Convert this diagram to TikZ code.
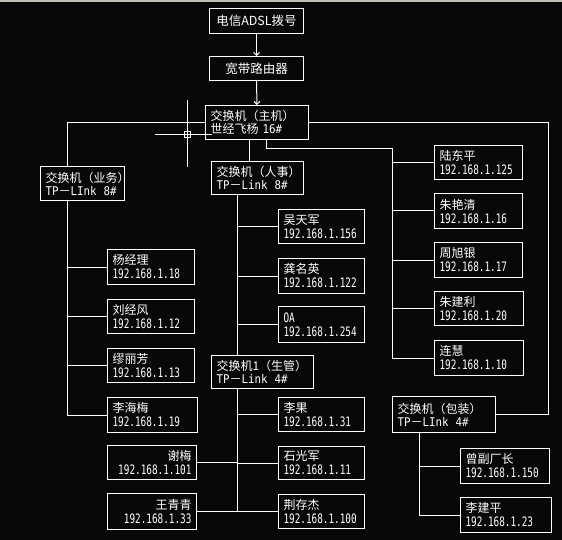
\documentclass[tikz,border=0pt]{standalone}
\usepackage{fontspec}
\usepackage{graphicx}
\setmainfont{Noto Sans CJK SC}
\newfontfamily\mono{DejaVu Sans Mono}
\usetikzlibrary{arrows.meta}
\newcommand\ipt[1]{\scalebox{0.72}[1]{\mono\fontsize{13}{14}\selectfont #1}}
\newcommand\tpl[2]{\scalebox{0.9}[1]{\mono\fontsize{12}{13}\selectfont TP}－\scalebox{0.9}[1]{\mono\fontsize{12}{13}\selectfont #1\ \ #2}}
\tikzset{
  box/.style={draw=white, line width=1pt, text=white, align=left, inner xsep=5pt, inner ysep=0pt,
    anchor=north west, font=\fontsize{12}{14}\selectfont},
  sw/.style={box, font=\fontsize{12}{13}\selectfont},
  rbox/.style={box, align=right},
  conn/.style={draw=white, line width=1pt},
  arr/.style={conn, -{Straight Barb[length=3pt,width=6pt]}},
  cursor/.style={draw=white, line width=0.8pt}
}
\begin{document}
\begin{tikzpicture}[x=1pt,y=-1pt]
\useasboundingbox (0,0) rectangle (562,540);
\fill[black!97] (0,0) rectangle (562,540);
\fill[color={rgb,255:red,190;green,190;blue,180}] (0,0) rectangle (562,2.5);

% top chain
\node[box, align=center, text width=84pt, minimum height=25pt, font=\fontsize{12.5}{14}\selectfont] (adsl) at (209,8) {电信ADSL拨号};
\node[box, align=center, text width=84pt, minimum height=24pt, font=\fontsize{12.5}{14}\selectfont] (bb) at (209,56) {宽带路由器};
\node[sw, text width=93pt, minimum height=34pt] (main) at (205,105) {交换机（主机）\\世经飞杨\ \scalebox{0.9}[1]{\mono\fontsize{12}{13}\selectfont 16\#}};

% switches
\node[sw, text width=74pt, minimum height=34pt] (yewu) at (40,166) {交换机（业务）\\\tpl{LInk}{8\#}};
\node[sw, text width=82pt, minimum height=33pt] (rs) at (211,161) {交换机（人事）\\\tpl{Link}{8\#}};
\node[sw, text width=92pt, minimum height=33pt] (sg) at (211,355) {交换机1（生管）\\\tpl{Link}{4\#}};
\node[sw, text width=93pt, minimum height=36pt] (bz) at (392,396) {交换机（包装）\\\tpl{LInk}{4\#}};

% right column
\node[box, text width=78pt, minimum height=34pt] (ldp) at (434,145) {陆东平\\\ipt{192.168.1.125}};
\node[box, text width=78pt, minimum height=35pt] (zyq) at (434,193) {朱艳清\\\ipt{192.168.1.16}};
\node[box, text width=78pt, minimum height=35pt] (zxy) at (434,242) {周旭银\\\ipt{192.168.1.17}};
\node[box, text width=79pt, minimum height=34pt] (zjl) at (434,291) {朱建利\\\ipt{192.168.1.20}};
\node[box, text width=79pt, minimum height=35pt] (lh) at (434,340) {连慧\\\ipt{192.168.1.10}};

% left column
\node[box, text width=77pt, minimum height=35pt] (yjl) at (107,249) {杨经理\\\ipt{192.168.1.18}};
\node[box, text width=77pt, minimum height=34pt] (ljf) at (107,299) {刘经风\\\ipt{192.168.1.12}};
\node[box, text width=77pt, minimum height=34pt] (mlf) at (107,348) {缪丽芳\\\ipt{192.168.1.13}};
\node[box, text width=80pt, minimum height=35pt] (lhm) at (107,397) {李海梅\\\ipt{192.168.1.19}};

% middle column
\node[box, text width=76pt, minimum height=34pt] (wtj) at (278,209) {吴天军\\\ipt{192.168.1.156}};
\node[box, text width=76pt, minimum height=35pt] (gmy) at (278,258) {龚名英\\\ipt{192.168.1.122}};
\node[box, text width=76pt, minimum height=36pt] (oa) at (278,306) {\ipt{OA}\\\ipt{192.168.1.254}};
\node[box, text width=76pt, minimum height=34pt] (lg) at (278,397) {李果\\\ipt{192.168.1.31}};
\node[box, text width=76pt, minimum height=33pt] (sgj) at (278,446) {石光军\\\ipt{192.168.1.11}};
\node[box, text width=76pt, minimum height=34pt] (jcj) at (278,494) {荆存杰\\\ipt{192.168.1.100}};

% bottom left (right aligned)
\node[rbox, text width=79pt, minimum height=34pt] (xm) at (107,445) {谢梅\\\ipt{192.168.1.101}};
\node[rbox, text width=79pt, minimum height=36pt] (wqq) at (107,493) {王青青\\\ipt{192.168.1.33}};

% packaging
\node[box, text width=79pt, minimum height=35pt] (zfcz) at (460,448) {曾副厂长\\\ipt{192.168.1.150}};
\node[box, text width=81pt, minimum height=35pt] (ljp) at (460,497) {李建平\\\ipt{192.168.1.23}};

% bus coordinates
\coordinate (xL) at (67,0);
\coordinate (xR) at (548,0);
\coordinate (xA) at (249,0);
\coordinate (xB) at (266,0);
\coordinate (yB) at (0,149);
\coordinate (xC) at (392,0);
\coordinate (xM) at (237,0);
\coordinate (xP) at (419,0);

% connectors
\draw[arr] (adsl.south) -- (bb.north);
\draw[arr] (bb.south) -- (main.north);
\draw[conn] (main.west) -| (yewu.north -| xL);
\draw[conn] (main.east) -| (bz.east -| xR) -- (bz.east);
\draw[conn] (main.south -| xA) -- (rs.north -| xA);
\draw[conn] (main.south -| xB) |- (xC |- yB) -- (lh.west -| xC);
\foreach \n in {ldp,zyq,zxy,zjl,lh} \draw[conn] (\n.west) -- (\n.west -| xC);
\draw[conn] (yewu.south -| xL) -- (lhm.west -| xL);
\foreach \n in {yjl,ljf,mlf,lhm} \draw[conn] (\n.west) -- (\n.west -| xL);
\draw[conn] (rs.south -| xM) -- (sg.north -| xM);
\foreach \n in {wtj,gmy,oa} \draw[conn] (\n.west) -- (\n.west -| xM);
\draw[conn] (sg.south -| xM) -- (jcj.west -| xM);
\foreach \n in {lg,sgj,jcj} \draw[conn] (\n.west) -- (\n.west -| xM);
\foreach \n in {xm,wqq} \draw[conn] (\n.east) -- (\n.east -| xM);
\draw[conn] (bz.south -| xP) -- (ljp.west -| xP);
\foreach \n in {zfcz,ljp} \draw[conn] (\n.west) -- (\n.west -| xP);

% drawing cursor
\draw[cursor] (187,100) -- (187,167);
\draw[cursor] (155,134) -- (212,134);
\draw[cursor] (184,131) rectangle (190,137);
\end{tikzpicture}
\end{document}
